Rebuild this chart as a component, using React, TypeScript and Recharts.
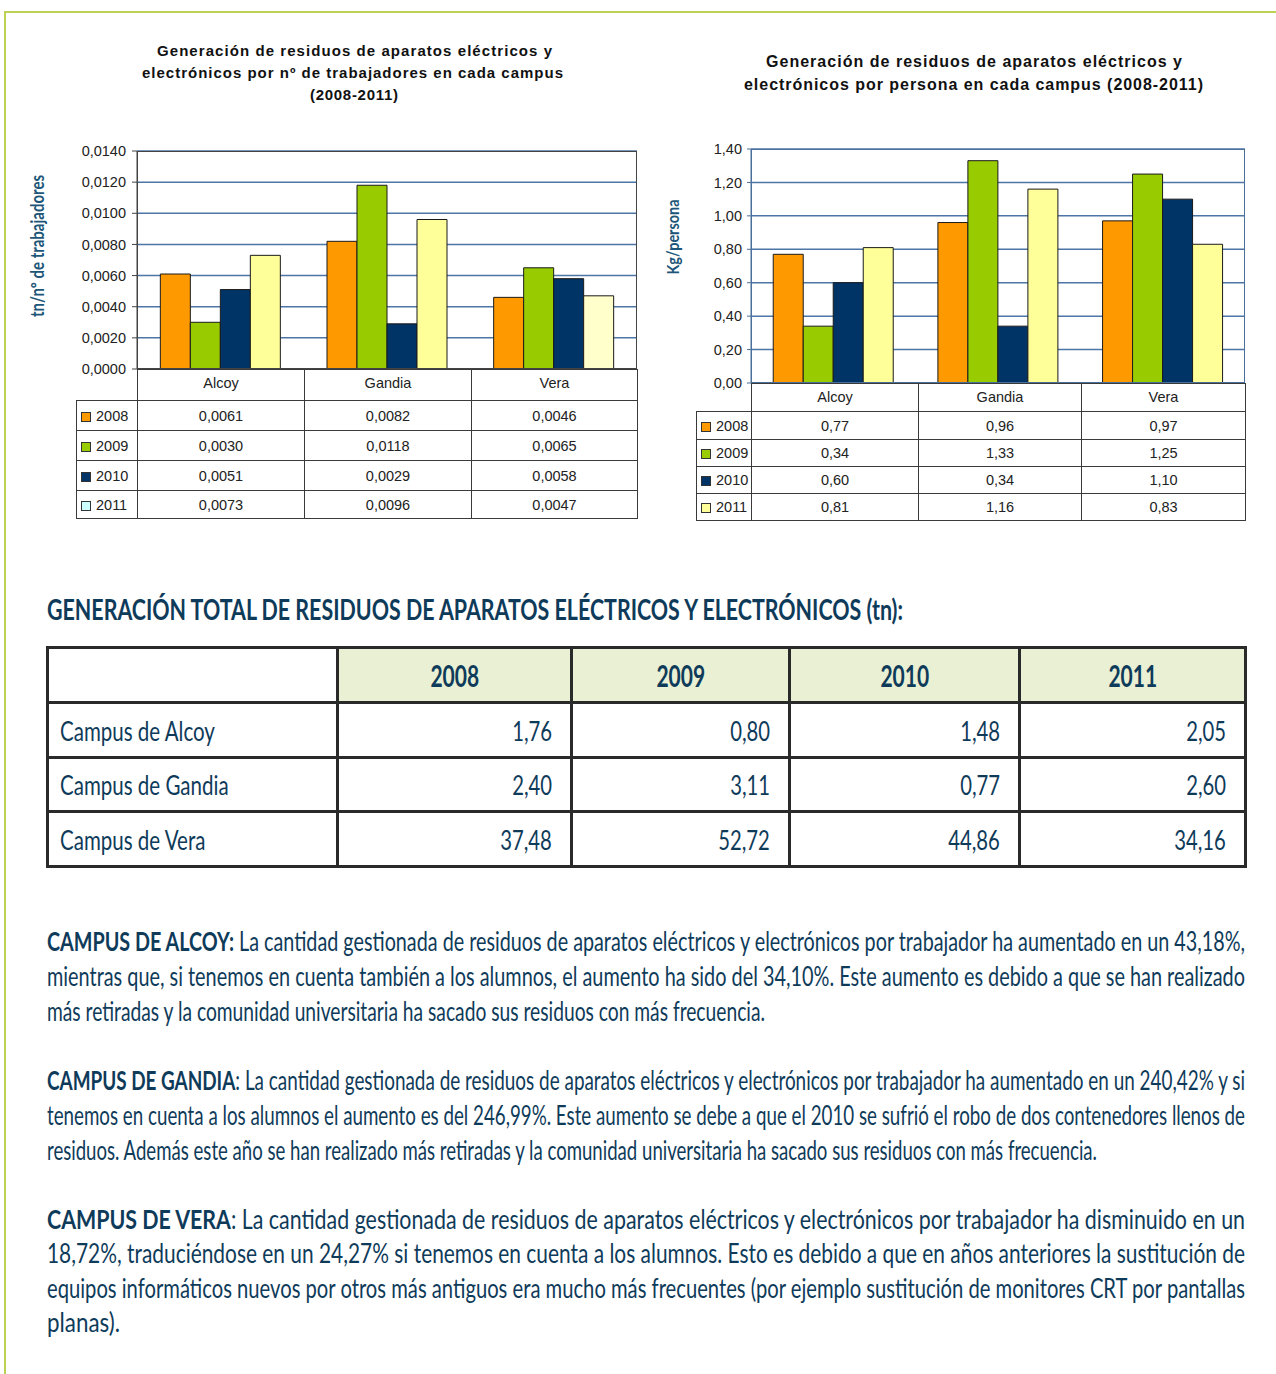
import React from "react";
import { Bar, BarChart, CartesianGrid, Cell, XAxis, YAxis } from "recharts";

// ---- data ----
const CAMPUSES = ["Alcoy", "Gandia", "Vera"];
const YEARS = ["2008", "2009", "2010", "2011"];

// tn per worker, one array per year (Alcoy, Gandia, Vera)
const WORKER_2008 = [0.0061, 0.0082, 0.0046];
const WORKER_2009 = [0.003, 0.0118, 0.0065];
const WORKER_2010 = [0.0051, 0.0029, 0.0058];
const WORKER_2011 = [0.0073, 0.0096, 0.0047];
const WORKER_TICKS = [0, 0.002, 0.004, 0.006, 0.008, 0.01, 0.012, 0.014];

// kg per person
const PERSON_2008 = [0.77, 0.96, 0.97];
const PERSON_2009 = [0.34, 1.33, 1.25];
const PERSON_2010 = [0.6, 0.34, 1.1];
const PERSON_2011 = [0.81, 1.16, 0.83];
const PERSON_TICKS = [0, 0.2, 0.4, 0.6, 0.8, 1.0, 1.2, 1.4];

// total tn per campus, 2008..2011
const TOTAL_ROWS = ["Campus de Alcoy", "Campus de Gandia", "Campus de Vera"];
const TOTAL_ALCOY = [1.76, 0.8, 1.48, 2.05];
const TOTAL_GANDIA = [2.4, 3.11, 0.77, 2.6];
const TOTAL_VERA = [37.48, 52.72, 44.86, 34.16];

// ---- styling ----
const YEAR_COLORS = ["#ff9900", "#99cc00", "#003366", "#ffff99"];
const INK = "#0f3b5a";
const GRID = "#4d76a6";
const UI_FONT = '"Liberation Sans", Arial, sans-serif';
const BODY_FONT = 'Lato, "Open Sans", sans-serif';

const comma = (v: number, d: number) => v.toFixed(d).replace(".", ",");

function buildRows(series: number[][]) {
  return CAMPUSES.map((campus, i) => {
    const row: Record<string, string | number> = { campus };
    YEARS.forEach((y, k) => (row[`y${y}`] = series[k][i]));
    return row;
  });
}

type ChartProps = {
  left: number;
  top: number;
  width: number;
  height: number;
  series: number[][];
  ticks: number[];
  decimals: number;
  tickSize: number;
  tickMargin: number;
  gap: string;
  frame: string;
  lastColors?: string[];
};

function WasteChart(p: ChartProps) {
  const data = buildRows(p.series);
  const plotW = p.width - 80 - 10;
  const plotH = p.height - 20;
  return (
    <div style={{ position: "absolute", left: p.left, top: p.top }}>
      <BarChart
        width={p.width}
        height={p.height}
        data={data}
        margin={{ top: 10, right: 10, bottom: 10, left: 0 }}
        barCategoryGap={p.gap}
        barGap={0}
      >
        <CartesianGrid vertical={false} stroke={GRID} strokeWidth={1.5} />
        <XAxis dataKey="campus" hide />
        <YAxis
          width={80}
          domain={[p.ticks[0], p.ticks[p.ticks.length - 1]]}
          ticks={p.ticks}
          interval={0}
          tickFormatter={(v: number) => comma(v, p.decimals)}
          tick={{ fill: "#222", fontSize: 14.5, fontFamily: UI_FONT }}
          tickSize={p.tickSize}
          tickMargin={p.tickMargin}
          axisLine={{ stroke: p.frame }}
          tickLine={{ stroke: p.frame }}
        />
        {YEARS.map((y, k) => (
          <Bar
            key={y}
            dataKey={`y${y}`}
            fill={YEAR_COLORS[k]}
            stroke="#1a1a1a"
            strokeWidth={1}
            isAnimationActive={false}
          >
            {k === 3 && p.lastColors
              ? data.map((d, i) => <Cell key={String(d.campus)} fill={p.lastColors![i]} />)
              : null}
          </Bar>
        ))}
      </BarChart>
      <div
        style={{
          position: "absolute",
          left: 80,
          top: 10,
          width: plotW,
          height: plotH,
          border: `1px solid ${p.frame}`,
          boxSizing: "border-box",
          pointerEvents: "none",
        }}
      />
    </div>
  );
}

type TableProps = {
  left: number;
  top: number;
  legendW: number;
  cols: number[];
  rows: number[];
  series: number[][];
  decimals: number;
  swatches: string[];
};

function ChartTable(p: TableProps) {
  const line = "1px solid #3a3a3a";
  const cell: React.CSSProperties = {
    border: line,
    textAlign: "center",
    padding: 0,
    fontFamily: UI_FONT,
    fontSize: 14.5,
    color: "#222",
  };
  return (
    <table
      style={{
        position: "absolute",
        left: p.left,
        top: p.top,
        borderCollapse: "collapse",
        tableLayout: "fixed",
        width: p.legendW + p.cols.reduce((a, b) => a + b, 0),
      }}
    >
      <colgroup>
        <col style={{ width: p.legendW }} />
        {p.cols.map((w, i) => (
          <col key={i} style={{ width: w }} />
        ))}
      </colgroup>
      <tbody>
        <tr style={{ height: p.rows[0] }}>
          <td style={{ ...cell, border: "none" }} />
          {CAMPUSES.map((c) => (
            <td key={c} style={{ ...cell, verticalAlign: "top", paddingTop: 5 }}>
              {c}
            </td>
          ))}
        </tr>
        {YEARS.map((y, k) => (
          <tr key={y} style={{ height: p.rows[k + 1] }}>
            <td style={{ ...cell, textAlign: "left", paddingLeft: 4, whiteSpace: "nowrap" }}>
              <span
                style={{
                  display: "inline-block",
                  width: 8,
                  height: 8,
                  background: p.swatches[k],
                  border: "1px solid #333",
                  marginRight: 5,
                  verticalAlign: "-1px",
                }}
              />
              {y}
            </td>
            {p.series[k].map((v, i) => (
              <td key={i} style={cell}>
                {comma(v, p.decimals)}
              </td>
            ))}
          </tr>
        ))}
      </tbody>
    </table>
  );
}

function Squeeze({
  children,
  scale,
  origin,
}: {
  children: React.ReactNode;
  scale: number;
  origin: string;
}) {
  return (
    <span style={{ display: "inline-block", transform: `scaleX(${scale})`, transformOrigin: origin }}>
      {children}
    </span>
  );
}

function TotalsTable() {
  const rows = [TOTAL_ALCOY, TOTAL_GANDIA, TOTAL_VERA];
  const border = "3px solid #2a2a2a";
  const widths = [290, 234, 218, 230, 226];
  const heights = [55, 55, 54, 55];
  const base: React.CSSProperties = {
    border,
    padding: 0,
    color: INK,
    fontFamily: BODY_FONT,
    fontSize: 27,
    whiteSpace: "nowrap",
    overflow: "visible",
  };
  return (
    <table
      style={{
        position: "absolute",
        left: 46,
        top: 646,
        width: 1200,
        borderCollapse: "collapse",
        tableLayout: "fixed",
      }}
    >
      <colgroup>
        {widths.map((w, i) => (
          <col key={i} style={{ width: w }} />
        ))}
      </colgroup>
      <tbody>
        <tr style={{ height: heights[0] }}>
          <td style={base} />
          {YEARS.map((y) => (
            <td
              key={y}
              style={{ ...base, background: "#e9f0d4", textAlign: "center", fontWeight: 700, fontSize: 30 }}
            >
              <Squeeze scale={0.7} origin="center">
                {y}
              </Squeeze>
            </td>
          ))}
        </tr>
        {rows.map((vals, r) => (
          <tr key={r} style={{ height: heights[r + 1] }}>
            <td style={{ ...base, paddingLeft: 11 }}>
              <Squeeze scale={0.76} origin="left">
                {TOTAL_ROWS[r]}
              </Squeeze>
            </td>
            {vals.map((v, i) => (
              <td key={i} style={{ ...base, textAlign: "right", paddingRight: 18 }}>
                <Squeeze scale={0.75} origin="right">
                  {comma(v, 2)}
                </Squeeze>
              </td>
            ))}
          </tr>
        ))}
      </tbody>
    </table>
  );
}

type LineProps = {
  x: number;
  y: number;
  len: number;
  children: React.ReactNode;
};

function BodyLine({ x, y, len, children }: LineProps) {
  return (
    <text
      x={x}
      y={y}
      textLength={len}
      lengthAdjust="spacingAndGlyphs"
      fontFamily={BODY_FONT}
      fontSize={27}
      fill={INK}
    >
      {children}
    </text>
  );
}

function TitleLine({ x, y, len, children, size }: LineProps & { size: number }) {
  return (
    <text
      x={x}
      y={y}
      textLength={len}
      lengthAdjust="spacing"
      fontFamily={UI_FONT}
      fontSize={size}
      fontWeight={700}
      fill="#111"
    >
      {children}
    </text>
  );
}

const B = ({ children }: { children: React.ReactNode }) => <tspan fontWeight={700}>{children}</tspan>;

function Texts() {
  return (
    <svg
      width={1276}
      height={1374}
      style={{ position: "absolute", left: 0, top: 0, pointerEvents: "none" }}
    >
      <TitleLine x={157} y={56} len={395} size={15}>
        Generación de residuos de aparatos eléctricos y
      </TitleLine>
      <TitleLine x={142} y={78} len={421} size={15}>
        electrónicos por nº de trabajadores en cada campus
      </TitleLine>
      <TitleLine x={310} y={100} len={88} size={15}>
        (2008-2011)
      </TitleLine>
      <TitleLine x={766} y={67} len={416} size={16}>
        Generación de residuos de aparatos eléctricos y
      </TitleLine>
      <TitleLine x={744} y={90} len={459} size={16}>
        electrónicos por persona en cada campus (2008-2011)
      </TitleLine>

      <text
        transform="translate(44,246) rotate(-90)"
        textAnchor="middle"
        textLength={142}
        lengthAdjust="spacingAndGlyphs"
        fontFamily={BODY_FONT}
        fontSize={18}
        fontWeight={700}
        fill="#1d5678"
      >
        tn/nº de trabajadores
      </text>
      <text
        transform="translate(679,237) rotate(-90)"
        textAnchor="middle"
        textLength={75}
        lengthAdjust="spacingAndGlyphs"
        fontFamily={BODY_FONT}
        fontSize={17}
        fontWeight={700}
        fill="#1d5678"
      >
        Kg/persona
      </text>

      <text
        x={47}
        y={620}
        textLength={856}
        lengthAdjust="spacingAndGlyphs"
        fontFamily={BODY_FONT}
        fontSize={29}
        fontWeight={700}
        fill={INK}
      >
        GENERACIÓN TOTAL DE RESIDUOS DE APARATOS ELÉCTRICOS Y ELECTRÓNICOS (tn):
      </text>

      <BodyLine x={47} y={951} len={1198}>
        <B>CAMPUS DE ALCOY:</B> La cantidad gestionada de residuos de aparatos eléctricos y electrónicos por
        trabajador ha aumentado en un 43,18%,
      </BodyLine>
      <BodyLine x={47} y={986} len={1198}>
        mientras que, si tenemos en cuenta también a los alumnos, el aumento ha sido del 34,10%. Este aumento es
        debido a que se han realizado
      </BodyLine>
      <BodyLine x={47} y={1021} len={718}>
        más retiradas y la comunidad universitaria ha sacado sus residuos con más frecuencia.
      </BodyLine>

      <BodyLine x={47} y={1090} len={1198}>
        <B>CAMPUS DE GANDIA</B>: La cantidad gestionada de residuos de aparatos eléctricos y electrónicos por
        trabajador ha aumentado en un 240,42% y si
      </BodyLine>
      <BodyLine x={47} y={1125} len={1198}>
        tenemos en cuenta a los alumnos el aumento es del 246,99%. Este aumento se debe a que el 2010 se sufrió el
        robo de dos contenedores llenos de
      </BodyLine>
      <BodyLine x={47} y={1160} len={1050}>
        residuos. Además este año se han realizado más retiradas y la comunidad universitaria ha sacado sus
        residuos con más frecuencia.
      </BodyLine>

      <BodyLine x={47} y={1229} len={1198}>
        <B>CAMPUS DE VERA</B>: La cantidad gestionada de residuos de aparatos eléctricos y electrónicos por
        trabajador ha disminuido en un
      </BodyLine>
      <BodyLine x={47} y={1263} len={1198}>
        18,72%, traduciéndose en un 24,27% si tenemos en cuenta a los alumnos. Esto es debido a que en años
        anteriores la sustitución de
      </BodyLine>
      <BodyLine x={47} y={1298} len={1198}>
        equipos informáticos nuevos por otros más antiguos era mucho más frecuentes (por ejemplo sustitución de
        monitores CRT por pantallas
      </BodyLine>
      <BodyLine x={47} y={1332} len={73}>
        planas).
      </BodyLine>
    </svg>
  );
}

export default function App() {
  const worker = [WORKER_2008, WORKER_2009, WORKER_2010, WORKER_2011];
  const person = [PERSON_2008, PERSON_2009, PERSON_2010, PERSON_2011];
  return (
    <div
      style={{
        position: "absolute",
        left: 0,
        top: 0,
        width: 1276,
        height: 1374,
        background: "#fff",
        overflow: "hidden",
      }}
    >
      {/* page frame */}
      <div style={{ position: "absolute", left: 4, top: 11, width: 1272, height: 2, background: "#bdd255" }} />
      <div style={{ position: "absolute", left: 4, top: 11, width: 2, height: 1363, background: "#bdd255" }} />

      <WasteChart
        left={57}
        top={141}
        width={590}
        height={238}
        series={worker}
        ticks={WORKER_TICKS}
        decimals={4}
        tickSize={5}
        tickMargin={6}
        gap="14%"
        frame="#444"
        lastColors={["#ffff99", "#ffff99", "#ffffcc"]}
      />
      <ChartTable
        left={76}
        top={369}
        legendW={61}
        cols={[167, 167, 166]}
        rows={[31, 30, 30, 30, 28]}
        series={worker}
        decimals={4}
        swatches={["#ff9900", "#99cc00", "#003366", "#ccffff"]}
      />

      <WasteChart
        left={671}
        top={139}
        width={584}
        height={254}
        series={person}
        ticks={PERSON_TICKS}
        decimals={2}
        tickSize={4}
        tickMargin={5}
        gap="13.5%"
        frame="#4a6f9a"
      />
      <ChartTable
        left={696}
        top={383}
        legendW={55}
        cols={[167, 163, 164]}
        rows={[28, 28, 27, 27, 27]}
        series={person}
        decimals={2}
        swatches={YEAR_COLORS}
      />

      <TotalsTable />
      <Texts />
    </div>
  );
}
